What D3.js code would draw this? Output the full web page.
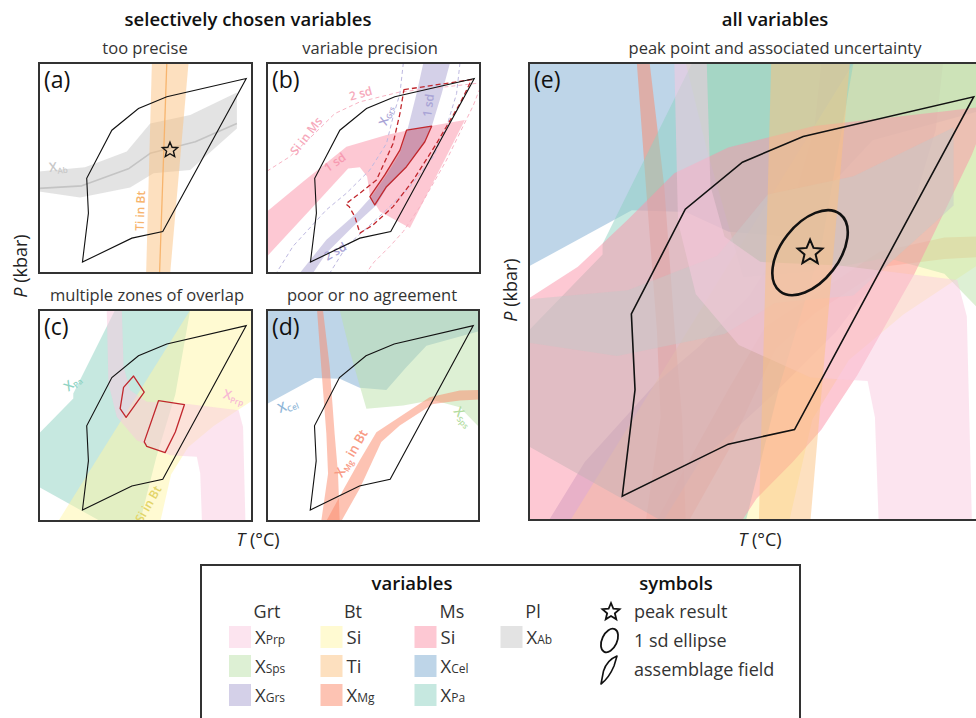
<!DOCTYPE html>
<html>
<head>
<meta charset="utf-8">
<script src="https://cdn.jsdelivr.net/npm/d3@7"></script>
<style>
  body { margin: 0; background: #fff; }
  svg { display: block; font-family: "Open Sans", "Noto Sans", sans-serif; }
</style>
</head>
<body>
<svg id="fig" width="976" height="718"></svg>
<script>
// ---------------------------------------------------------------
// Schematic P–T space, both axes in relative units (0–100).
// Every band is given as its outline, [T, P] pairs.
// ---------------------------------------------------------------

// metamorphic assemblage field
const assemblageField = [[20.4,5.2],[23.2,28.5],[22.4,45.1],[34.2,68],[46.7,78.3],[60,83.9],[97.3,92.6],[58.1,19.8],[43.6,16.6]];
// peak result and its 1 sd ellipse (semi-axes in relative units, tilt in degrees)
const peakResult = [61.5, 58.5];
const peakEllipse = { major: 10.7, minor: 6.3, tilt: 38 };

// Pl: X_Ab
const xAbUpper  = [[0,48.3],[21.6,50.3],[41.2,57.8],[52.2,71.2],[71,75.2],[92.9,85.9]];
const xAbLower  = [[0,38.8],[19.3,35.9],[42.8,40.7],[53.8,47.5],[71,49.1],[92.9,68.8]];
const xAbCentre = [[0,40.3],[20.1,41.5],[42.3,49.8],[52.2,57],[73.4,62.5],[85.1,67.7],[92.9,71.2]];

// Bt: Ti
const tiLeft   = [[53,100],[50.3,0]];
const tiRight  = [[70.2,100],[61.6,0]];
const tiCentre = [[60,100],[56.6,0]];

// Bt: X_Mg (steep branch and shallow branch)
const xMgSteepLeft  = [[23.6,100],[25.6,72.9],[28,41.3],[28.8,22.4],[25.6,0]];
const xMgSteepRight = [[26.4,100],[29.6,72.9],[31.9,41.3],[33.5,22.4],[34.3,0]];
const xMgFlatUpper  = [[28,0],[35.8,14.5],[43.7,28.7],[51.6,42.1],[76.7,58.7],[90.9,61.8],[100,62.1]];
const xMgFlatLower  = [[35.1,0],[43.7,15.3],[53.9,37.4],[62.6,45.3],[78.3,55.5],[90.9,57.1],[100,57.6]];

// Ms: X_Cel
const xCel = [[0,100],[100,100],[100,89.9],[75.2,83.1],[65.7,72.9],[56.3,62.1],[43.7,63.1],[34.3,67.4],[22.5,67.8],[0,55.5]];
// Grt: X_Sps
const xSps = [[34.3,100],[100,100],[100,44.5],[90.9,53.9],[78.3,57.4],[64.2,54.7],[46.9,53.2],[43.7,64.2],[39,80.8]];
// Grt: X_Prp
const xPrpOuter = [[38.9,100],[39.7,73.1],[42.8,62],[50.6,56.5],[67.9,55.7],[93.7,52.5],[95.8,44.6],[96.9,0]];
const xPrpInner = [[31.8,100],[32.6,65.2],[36.5,49.4],[45.9,38.3],[61.6,31.2],[74.1,30.4],[75.7,22.5],[76.5,0]];
// Bt: Si
const siBt = [[9.1,0],[71,100],[100,100],[100,57],[82,45],[70,35],[62,22],[57,0]];
// Ms: X_Pa
const xPa = [[35.7,100],[71,100],[64,60],[55,30],[47.5,0],[28.7,0],[0,16.1],[0,41.5],[16.1,58.1],[16.1,60.4]];

// Ms: Si — 1 sd band and 2 sd limits
const siMs1sd = [[0,29.3],[16.9,43.5],[37.3,60.1],[56.1,65.7],[70.2,68.8],[92.9,72.8],[67.1,21.4],[53,29.3],[48.3,37.2],[47,45.9],[43.6,50.3],[38.1,49.8],[21.6,31.6],[0,7.9]];
const siMs2sdUpper = [[0,48.5],[10.7,55.4],[21.6,65.7],[31.8,75.9],[43.6,81.5],[62.4,86.2],[90.6,89.4],[100,90.5]];
const siMs2sdLower = [[100,88],[96.9,79.9],[84.3,53.8],[71.8,31.6],[64,19.8],[57.7,12.7],[49.8,4.7],[46.7,0]];

// Grt: X_Grs — 1 sd band and 2 sd limits
const xGrsLeft  = [[73.4,100],[70.2,85.4],[66.3,69.6],[62.4,57],[56.1,46.7],[49.1,36.4],[42,28.5],[27.9,15.8],[15.4,0]];
const xGrsRight = [[85.9,100],[82,85.4],[77.3,69.6],[73.4,61.7],[65.5,50.6],[56.1,40.3],[51.4,32.4],[40.4,22.2],[27.9,9.5],[21.6,0]];
const xGrs2sdLeft  = [[64,100],[62.4,85.4],[59.2,74.4],[56.1,61.7],[48.3,49.1],[37.3,38],[27.9,30.1],[12.2,12.7],[4.4,0]];
const xGrs2sdRight = [[90.6,100],[89,85.4],[84.3,69.6],[78.1,55.4],[67.1,41.1],[54.5,28.5],[37.3,12.7],[29.5,0]];

// overlap fields
const overlap1sd = [[65.5,68],[77.3,69.9],[74.1,62.5],[65.5,50.6],[56.1,41.1],[50.6,32.4],[48.3,36.4],[55.3,46.7],[62.4,58.5]];
const overlap2sd = [[64.3,87.3],[96.1,92.1],[90.6,80.7],[79.6,61.7],[68.7,44.3],[59.2,31.6],[49.8,22.9],[43.6,19],[41.2,26.9],[38.6,31.6],[37,32.9],[43.6,38],[51.4,44.3],[59.2,61.7],[62.4,75.9]];
const overlapZoneA = [[44.4,68.7],[39.7,63.3],[38.1,53.3],[40.9,49.1],[49.4,61.1]];
const overlapZoneB = [[56.1,57],[68.3,55.2],[64,42.2],[59.2,32.4],[50.6,35.4],[49.4,37.5]];

// legend
const mineralGroups = ["Grt", "Bt", "Ms", "Pl"];
const groupVariables = [
  [["X","Prp"],["X","Sps"],["X","Grs"]],
  [["Si",""],["Ti",""],["X","Mg"]],
  [["Si",""],["X","Cel"],["X","Pa"]],
  [["X","Ab"]]
];
const symbolLabels = ["peak result", "1 sd ellipse", "assemblage field"];

// ---------------------------------------------------------------
// styling
// ---------------------------------------------------------------
const BAND_OPACITY = 0.5;
const colour = {
  prp: "#f9c9df", sps: "#bbe1a9", grs: "#a9a1d1",
  siBt: "#fff5a5", ti: "#fbc17f", mg: "#fb8767",
  siMs: "#fb91a7", cel: "#7dabd1", pa: "#8dd1c1", ab: "#c7c7c7"
};
const groupColours = [
  [colour.prp, colour.sps, colour.grs],
  [colour.siBt, colour.ti, colour.mg],
  [colour.siMs, colour.cel, colour.pa],
  [colour.ab]
];
const RED = "#c1272d";

const panelBoxes = {
  a: { x: 39,  y: 63,  w: 213, h: 210 },
  b: { x: 267, y: 63,  w: 213, h: 210 },
  c: { x: 39,  y: 310, w: 213, h: 211 },
  d: { x: 267, y: 310, w: 212, h: 211 },
  e: { x: 529, y: 63,  w: 457, h: 457 }
};

const svg = d3.select("#fig");
const defs = svg.append("defs");

const band = (a, b) => a.concat(b.slice().reverse());

function makePanel(key) {
  const box = panelBoxes[key];
  const x = d3.scaleLinear().domain([0, 100]).range([box.x, box.x + box.w]);
  const y = d3.scaleLinear().domain([0, 100]).range([box.y + box.h, box.y]);
  defs.append("clipPath").attr("id", "clip-" + key)
    .append("rect").attr("x", box.x).attr("y", box.y).attr("width", box.w).attr("height", box.h);
  const g = svg.append("g").attr("clip-path", `url(#clip-${key})`);
  const line = d3.line().x(d => x(d[0])).y(d => y(d[1]));
  return {
    box, x, y, g, line,
    fill(pts, c, op = BAND_OPACITY) {
      return g.append("path").attr("d", line(pts) + "Z").attr("fill", c).attr("fill-opacity", op);
    },
    stroke(pts, c, w, dash, closed) {
      return g.append("path").attr("d", line(pts) + (closed ? "Z" : ""))
        .attr("fill", "none").attr("stroke", c).attr("stroke-width", w)
        .attr("stroke-dasharray", dash || null).attr("stroke-linejoin", "round");
    },
    field(width) {
      return g.append("path").attr("d", line(assemblageField) + "Z")
        .attr("fill", "none").attr("stroke", "#111").attr("stroke-width", width).attr("stroke-linejoin", "miter");
    },
    frame(letter, size) {
      svg.append("rect").attr("x", box.x).attr("y", box.y).attr("width", box.w).attr("height", box.h)
        .attr("fill", "none").attr("stroke", "#333").attr("stroke-width", 2);
      svg.append("text").attr("x", box.x + 5).attr("y", box.y + 25)
        .attr("font-size", size).attr("fill", "#111").text(`(${letter})`);
    }
  };
}

// text with "X" + subscript + optional trailing words
function richLabel(p, T, P, main, sub, tail, c, size, angle) {
  const t = p.g.append("text")
    .attr("transform", `translate(${p.x(T)},${p.y(P)}) rotate(${angle})`)
    .attr("text-anchor", "middle").attr("fill", c)
    .attr("font-size", size).attr("font-weight", 600);
  t.append("tspan").text(main);
  if (sub) t.append("tspan").attr("font-size", size * 0.62).attr("dy", size * 0.2).text(sub);
  if (tail) t.append("tspan").attr("dy", sub ? -size * 0.2 : 0).text(tail);
  return t;
}

function starPath(cx, cy, R) {
  const r = R * 0.45, pts = [];
  for (let i = 0; i < 10; i++) {
    const a = -Math.PI / 2 + i * Math.PI / 5, rad = i % 2 ? r : R;
    pts.push([cx + rad * Math.cos(a), cy + rad * Math.sin(a)]);
  }
  return d3.line()(pts) + "Z";
}

// ---------------------------------------------------------------
// (a) too precise
// ---------------------------------------------------------------
{
  const p = makePanel("a");
  p.fill(band(xAbUpper, xAbLower), colour.ab);
  p.stroke(xAbCentre, "#c4c4c4", 1.6);
  p.fill(band(tiLeft, tiRight), colour.ti);
  p.stroke(tiCentre, "#f7b46e", 1.3);
  richLabel(p, 9.2, 48.5, "X", "Ab", "", "#c8c8c8", 13, -6);
  richLabel(p, 49.5, 29.5, "Ti in Bt", "", "", "#f7b46e", 12, -88);
  p.field(1.1);
  p.g.append("path").attr("d", starPath(p.x(peakResult[0]), p.y(peakResult[1]), 8))
    .attr("fill", "none").attr("stroke", "#111").attr("stroke-width", 1.4).attr("stroke-linejoin", "miter");
  p.frame("a", 23);
}

// ---------------------------------------------------------------
// (b) variable precision
// ---------------------------------------------------------------
{
  const p = makePanel("b");
  p.fill(siMs1sd, colour.siMs);
  p.fill(band(xGrsLeft, xGrsRight), colour.grs);
  p.stroke(siMs2sdUpper, "#f8b4c4", 1, "4,3");
  p.stroke(siMs2sdLower, "#f8b4c4", 1, "4,3");
  p.stroke(xGrs2sdLeft, "#bdb8e0", 1, "4,3");
  p.stroke(xGrs2sdRight, "#bdb8e0", 1, "4,3");
  p.stroke(overlap2sd, RED, 1.3, "5,3", true);
  p.fill(overlap1sd, RED, 0.22);
  p.stroke(overlap1sd, RED, 1.3, null, true);
  richLabel(p, 20, 64, "Si in Ms", "", "", "#f6a9bb", 12, -52);
  richLabel(p, 44.5, 83.5, "2 sd", "", "", "#f6a9bb", 12, -15);
  richLabel(p, 33, 51, "1 sd", "", "", "#f79ab1", 12, -35);
  richLabel(p, 57.5, 74.5, "X", "Grs", "", "#a9a4d6", 12, -72);
  richLabel(p, 77.7, 79.5, "1 sd", "", "", "#a9a4d6", 12, -82);
  richLabel(p, 33, 8.5, "2 sd", "", "", "#a9a4d6", 12, -30);
  p.field(1.1);
  p.frame("b", 23);
}

// ---------------------------------------------------------------
// (c) multiple zones of overlap
// ---------------------------------------------------------------
{
  const p = makePanel("c");
  p.fill(xPa, colour.pa);
  p.fill(siBt, colour.siBt);
  p.fill(band(xPrpOuter, xPrpInner), colour.prp);
  richLabel(p, 17, 64, "X", "Pa", "", "#8fd3c3", 13, -40);
  richLabel(p, 91, 57, "X", "Prp", "", "#f7b8d4", 13, 15);
  richLabel(p, 53, 7, "Si in Bt", "", "", "#e3d56a", 12, -60);
  p.field(1.1);
  p.stroke(overlapZoneA, RED, 1.3, null, true);
  p.stroke(overlapZoneB, RED, 1.3, null, true);
  p.frame("c", 23);
}

// ---------------------------------------------------------------
// (d) poor or no agreement
// ---------------------------------------------------------------
{
  const p = makePanel("d");
  p.fill(xCel, colour.cel);
  p.fill(xSps, colour.sps);
  p.fill(band(xMgSteepLeft, xMgSteepRight), colour.mg);
  p.fill(band(xMgFlatUpper, xMgFlatLower), colour.mg);
  richLabel(p, 10.5, 53, "X", "Cel", "", "#8fb6d8", 13, -22);
  richLabel(p, 91, 48, "X", "Sps", "", "#b3dc9f", 13, 50);
  richLabel(p, 41.5, 31, "X", "Mg", " in Bt", "#f89a84", 13, -60);
  p.field(1.1);
  p.frame("d", 23);
}

// ---------------------------------------------------------------
// (e) all variables
// ---------------------------------------------------------------
{
  const p = makePanel("e");
  p.fill(xCel, colour.cel);
  p.fill(band(xMgSteepLeft, xMgSteepRight), colour.mg);
  p.fill(band(xMgFlatUpper, xMgFlatLower), colour.mg);
  p.fill(band(xGrs2sdLeft, xGrs2sdRight), colour.grs);
  p.fill(siBt, colour.siBt);
  p.fill(xSps, colour.sps);
  p.fill(xPa, colour.pa);
  p.fill(siMs2sdUpper.concat(siMs2sdLower, [[0,0]]), colour.siMs);
  p.fill(band(xAbUpper, xAbLower), colour.ab);
  p.fill(band(xPrpOuter, xPrpInner), colour.prp);
  p.fill(band(tiLeft, tiRight), colour.ti);
  p.field(1.6);
  const cx = p.x(peakResult[0]), cy = p.y(peakResult[1]);
  const pxPerUnit = p.box.w / 100;
  p.g.append("ellipse").attr("cx", cx).attr("cy", cy)
    .attr("rx", peakEllipse.minor * pxPerUnit).attr("ry", peakEllipse.major * pxPerUnit)
    .attr("transform", `rotate(${peakEllipse.tilt},${cx},${cy})`)
    .attr("fill", "none").attr("stroke", "#111").attr("stroke-width", 2.6);
  p.g.append("path").attr("d", starPath(cx, cy, 13))
    .attr("fill", "none").attr("stroke", "#111").attr("stroke-width", 2).attr("stroke-linejoin", "miter");
  p.frame("e", 23);
}

// ---------------------------------------------------------------
// titles and axis labels
// ---------------------------------------------------------------
const titleText = (x, y, s, size, weight, col) =>
  svg.append("text").attr("x", x).attr("y", y).attr("text-anchor", "middle")
    .attr("font-size", size).attr("font-weight", weight).attr("fill", col).text(s);

titleText(248, 26, "selectively chosen variables", 18.5, 600, "#111");
titleText(775, 26, "all variables", 18.5, 600, "#111");
titleText(145, 54, "too precise", 16.5, 400, "#333");
titleText(370, 54, "variable precision", 16.5, 400, "#333");
titleText(147, 301, "multiple zones of overlap", 16.5, 400, "#333");
titleText(372, 301, "poor or no agreement", 16.5, 400, "#333");
titleText(775, 54, "peak point and associated uncertainty", 16.5, 400, "#333");

function axisLabel(x, y, italic, rest, rot) {
  const t = svg.append("text").attr("transform", `translate(${x},${y}) rotate(${rot})`)
    .attr("text-anchor", "middle").attr("font-size", 18).attr("fill", "#222");
  t.append("tspan").attr("font-style", "italic").text(italic);
  t.append("tspan").text(rest);
}
axisLabel(27, 266, "P", " (kbar)", -90);
axisLabel(517, 290, "P", " (kbar)", -90);
axisLabel(258, 546, "T", " (°C)", 0);
axisLabel(760, 546, "T", " (°C)", 0);

// ---------------------------------------------------------------
// legend
// ---------------------------------------------------------------
{
  const lg = svg.append("g");
  lg.append("rect").attr("x", 201).attr("y", 565).attr("width", 599).attr("height", 170)
    .attr("fill", "#fff").attr("stroke", "#333").attr("stroke-width", 2);
  lg.append("text").attr("x", 412).attr("y", 590).attr("text-anchor", "middle")
    .attr("font-size", 18.5).attr("font-weight", 600).attr("fill", "#111").text("variables");
  lg.append("text").attr("x", 676).attr("y", 590).attr("text-anchor", "middle")
    .attr("font-size", 18.5).attr("font-weight", 600).attr("fill", "#111").text("symbols");

  const headerX = [267, 353, 452, 533];
  const swatchX = [229, 320.5, 414.5, 500.5];
  const rowTop = [626, 655, 684];
  mineralGroups.forEach((gname, i) => {
    lg.append("text").attr("x", headerX[i]).attr("y", 618).attr("text-anchor", "middle")
      .attr("font-size", 18).attr("fill", "#333").text(gname);
    groupVariables[i].forEach(([main, sub], j) => {
      lg.append("rect").attr("x", swatchX[i]).attr("y", rowTop[j]).attr("width", 22).attr("height", 22)
        .attr("fill", groupColours[i][j]).attr("fill-opacity", BAND_OPACITY);
      const t = lg.append("text").attr("x", swatchX[i] + 26).attr("y", rowTop[j] + 18)
        .attr("font-size", 18.5).attr("fill", "#333");
      t.append("tspan").text(main);
      if (sub) t.append("tspan").attr("font-size", 12).text(sub);
    });
  });

  // symbol glyphs
  lg.append("path").attr("d", starPath(611, 612, 9))
    .attr("fill", "none").attr("stroke", "#111").attr("stroke-width", 1.8);
  lg.append("ellipse").attr("cx", 609.5).attr("cy", 640.5).attr("rx", 7.5).attr("ry", 12.5)
    .attr("transform", "rotate(25,609.5,640.5)")
    .attr("fill", "none").attr("stroke", "#111").attr("stroke-width", 1.8);
  lg.append("path").attr("d", "M601,684 L603.5,671 Q607,660 617,656 L614,666 Q609,678 601,684 Z")
    .attr("fill", "none").attr("stroke", "#111").attr("stroke-width", 1.6).attr("stroke-linejoin", "round");
  symbolLabels.forEach((s, i) => {
    lg.append("text").attr("x", 634).attr("y", 618 + i * 29).attr("font-size", 18)
      .attr("fill", "#333").text(s);
  });
}
</script>
</body>
</html>
